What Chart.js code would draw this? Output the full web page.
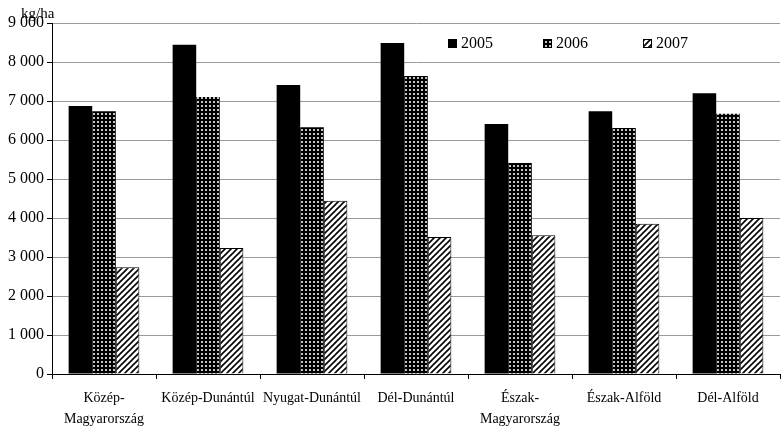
<!DOCTYPE html>
<html>
<head>
<meta charset="utf-8">
<script src="https://cdn.jsdelivr.net/npm/chart.js@4"></script>
<style>
  html, body { margin: 0; padding: 0; background: #fff; }
  #wrap { width: 781px; height: 427px; position: relative; }
</style>
</head>
<body>
<div id="wrap"><canvas id="grafico"></canvas></div>
<script>
var regioni = [
    ['Közép-', 'Magyarország'],
    'Közép-Dunántúl',
    'Nyugat-Dunántúl',
    'Dél-Dunántúl',
    ['Észak-', 'Magyarország'],
    'Észak-Alföld',
    'Dél-Alföld'
];
var anni = ['2005', '2006', '2007'];
var resa2005 = [6870, 8440, 7410, 8490, 6410, 6740, 7200];
var resa2006 = [6740, 7100, 6330, 7640, 5410, 6310, 6670];
var resa2007 = [2740, 3230, 4440, 3510, 3560, 3850, 4000];
var unita = 'kg/ha';

var font = "'Liberation Serif', 'Times New Roman', serif";

// retino: nero con puntini chiari
function pattern2006() {
    var c = document.createElement('canvas');
    c.width = 4; c.height = 4;
    var x = c.getContext('2d');
    x.fillStyle = '#000';
    x.fillRect(0, 0, 4, 4);
    x.fillStyle = '#c4c4c4';
    x.fillRect(1, 1, 2, 2);
    return x.createPattern(c, 'repeat');
}

// tratteggio diagonale
function pattern2007() {
    var c = document.createElement('canvas');
    c.width = 6; c.height = 6;
    var x = c.getContext('2d');
    x.fillStyle = '#fff';
    x.fillRect(0, 0, 6, 6);
    x.strokeStyle = '#000';
    x.lineWidth = 1.6;
    x.beginPath();
    x.moveTo(-1, 7); x.lineTo(7, -1);
    x.moveTo(-4, 4); x.lineTo(4, -4);
    x.moveTo(2, 10); x.lineTo(10, 2);
    x.stroke();
    return x.createPattern(c, 'repeat');
}

var riempimenti = ['#000', pattern2006(), pattern2007()];

// legenda e unità disegnate a mano dentro l'area del grafico
var legendaInterna = {
    id: 'legendaInterna',
    afterDraw: function(chart) {
        var ctx = chart.ctx;
        ctx.save();
        ctx.font = '15px ' + font;
        ctx.fillStyle = '#000';
        ctx.textBaseline = 'middle';
        ctx.fillText(unita, 21, 14);
        ctx.font = '16px ' + font;
        var posX = [448, 543, 643];
        for (var i = 0; i < anni.length; i++) {
            ctx.fillStyle = riempimenti[i];
            ctx.fillRect(posX[i], 39, 9, 9);
            ctx.strokeStyle = '#000';
            ctx.lineWidth = 1;
            ctx.strokeRect(posX[i] + 0.5, 39.5, 8, 8);
            ctx.fillStyle = '#000';
            ctx.fillText(anni[i], posX[i] + 13, 44);
        }
        ctx.restore();
    }
};

var ctx = document.getElementById('grafico');
var chart = new Chart(ctx, {
    type: 'bar',
    data: {
        labels: regioni,
        datasets: [
            { label: anni[0], data: resa2005, backgroundColor: riempimenti[0], borderColor: '#000', borderWidth: 0 },
            { label: anni[1], data: resa2006, backgroundColor: riempimenti[1], borderColor: '#000', borderWidth: 0 },
            { label: anni[2], data: resa2007, backgroundColor: riempimenti[2], borderColor: '#000', borderWidth: 1 }
        ]
    },
    options: {
        responsive: true,
        maintainAspectRatio: false,
        animation: false,
        layout: { padding: { top: 23, right: 1, left: 0, bottom: 0 } },
        plugins: {
            legend: { display: false },
            tooltip: { enabled: false }
        },
        datasets: {
            bar: { categoryPercentage: 0.68, barPercentage: 1 }
        },
        scales: {
            x: {
                grid: { drawOnChartArea: false, offset: true, color: '#000', tickLength: 5 },
                border: { color: '#000' },
                ticks: {
                    color: '#000',
                    font: { family: font, size: 14, lineHeight: 1.5 },
                    maxRotation: 0,
                    autoSkip: false,
                    padding: 9
                },
                afterFit: function(scale) { scale.height = 53; }
            },
            y: {
                min: 0,
                max: 9000,
                ticks: {
                    stepSize: 1000,
                    color: '#000',
                    font: { family: font, size: 16 },
                    padding: 3,
                    callback: function(v) {
                        return v >= 1000 ? Math.floor(v / 1000) + ' 000' : String(v);
                    }
                },
                grid: { color: '#9a9a9a', tickColor: '#000', tickLength: 5, lineWidth: 1 },
                border: { color: '#000' },
                afterFit: function(scale) { scale.width = 52; }
            }
        }
    },
    plugins: [legendaInterna]
});
</script>
</body>
</html>
